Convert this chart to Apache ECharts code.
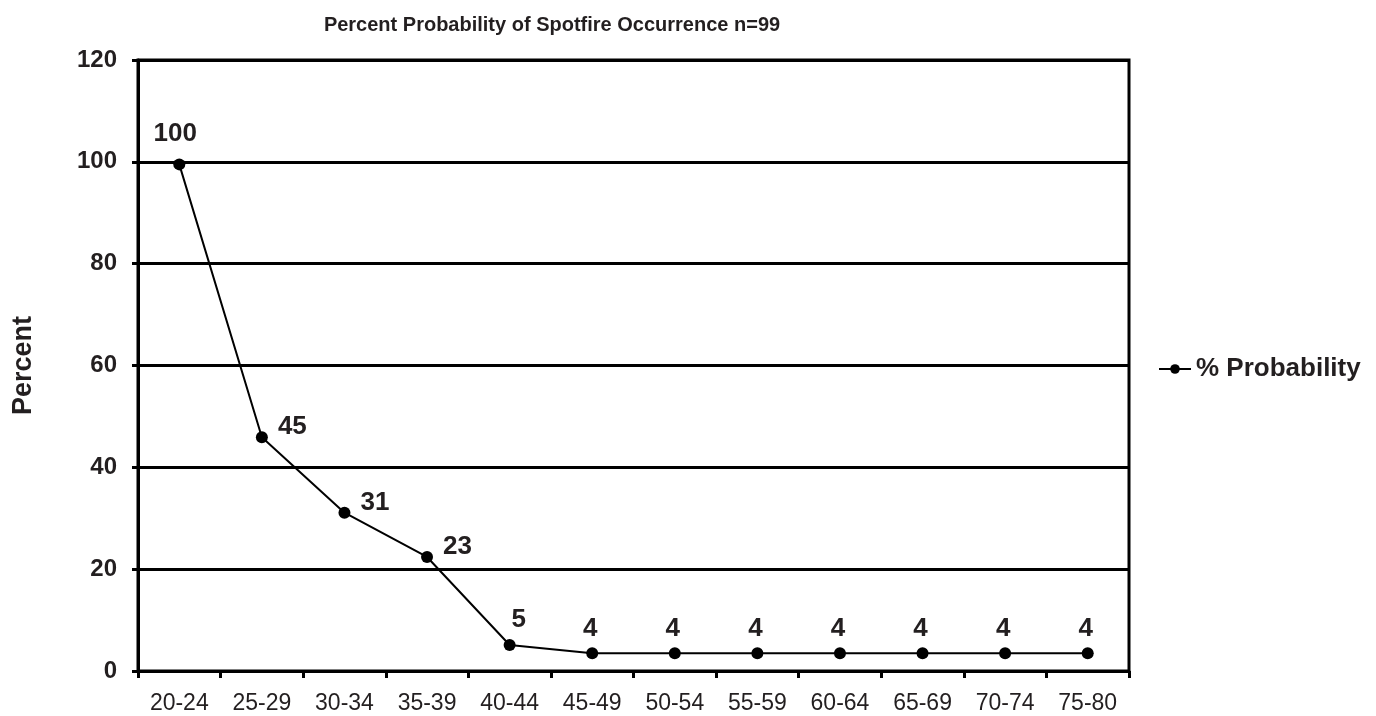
<!DOCTYPE html>
<html><head><meta charset="utf-8">
<script src="https://cdn.jsdelivr.net/npm/echarts@6/dist/echarts.min.js"></script>
<style>html,body{margin:0;padding:0;background:#fff}#c{width:1376px;height:716px}</style>
</head><body><div id="c"></div>
<script>
const categories = ['20-24','25-29','30-34','35-39','40-44','45-49','50-54','55-59','60-64','65-69','70-74','75-80'];
const values = [99.5, 45.9, 31.1, 22.4, 5.1, 3.5, 3.5, 3.5, 3.5, 3.5, 3.5, 3.5];
const pointLabels = ['100','45','31','23','5','4','4','4','4','4','4','4'];
const yTicks = [0, 20, 40, 60, 80, 100, 120];
const seriesName = '% Probability';
const titleText = 'Percent Probability of Spotfire Occurrence n=99';
const yName = 'Percent';

const FONT = '"Liberation Sans", Arial, sans-serif';
const TXT = '#231f20';
const chart = echarts.init(document.getElementById('c'), null, {renderer: 'canvas'});
const sideIdx = [1, 2, 3];
const data = values.map((v, i) => {
  const d = {value: v};
  if (sideIdx.includes(i)) {
    d.label = {position: 'right', distance: 10, offset: [0, -10]};
  } else if (i === 0) {
    d.label = {position: 'top', distance: 12, offset: [-4, 0]};
  } else if (i === 4) {
    d.label = {position: 'top', distance: 6, offset: [9, 0]};
  } else {
    d.label = {position: 'top', distance: 5, offset: [-2, 0]};
  }
  return d;
});
chart.setOption({
  animation: false,
  title: {text: titleText, left: 547, top: 10, textAlign: 'center',
    textStyle: {fontFamily: FONT, fontSize: 20, fontWeight: 'bold', color: TXT}},
  grid: {left: 138, right: 247, top: 60, bottom: 45, show: true, borderColor: '#000', borderWidth: 3},
  legend: {show: true, left: 1153, top: 351, orient: 'vertical', itemWidth: 32, itemHeight: 12, itemGap: 8,
    data: [{name: seriesName}],
    textStyle: {fontFamily: FONT, fontSize: 26, fontWeight: 'bold', color: TXT}},
  xAxis: {type: 'category', data: categories, boundaryGap: true,
    axisLine: {lineStyle: {color: '#000', width: 3}},
    axisTick: {show: true, inside: false, length: 7, lineStyle: {color: '#000', width: 3}},
    axisLabel: {margin: 21, fontFamily: FONT, fontSize: 23, color: TXT, interval: 0},
    splitLine: {show: false}},
  yAxis: {type: 'value', min: 0, max: 120, interval: 20,
    name: yName, nameLocation: 'middle', nameGap: 101, nameRotate: 90,
    nameTextStyle: {fontFamily: FONT, fontSize: 27, fontWeight: 'bold', color: TXT},
    axisLine: {show: true, lineStyle: {color: '#000', width: 3}},
    axisTick: {show: true, length: 6, lineStyle: {color: '#000', width: 3}},
    axisLabel: {margin: 21, fontFamily: FONT, fontSize: 24, fontWeight: 'bold', color: TXT,
      formatter: v => yTicks.includes(v) ? String(v) : ''},
    splitLine: {show: true, lineStyle: {color: '#000', width: 3}}},
  series: [{
    name: seriesName, type: 'line', data: data,
    symbol: 'circle', symbolSize: 12,
    itemStyle: {color: '#000'},
    lineStyle: {color: '#000', width: 2},
    label: {show: true, position: 'top', distance: 6,
      formatter: p => pointLabels[p.dataIndex],
      fontFamily: FONT, fontSize: 26, fontWeight: 'bold', color: TXT}
  }]
});
</script></body></html>
